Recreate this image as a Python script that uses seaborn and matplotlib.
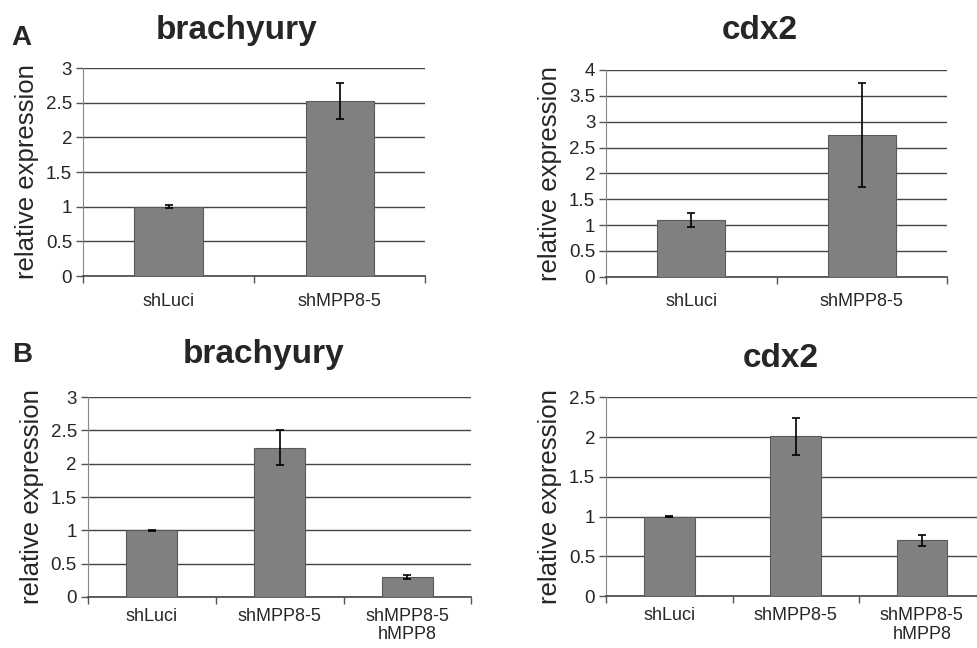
import numpy as np
import pandas as pd
import matplotlib
matplotlib.use("Agg")
import matplotlib.pyplot as plt
import seaborn as sns

# data
cats_a = ["shLuci", "shMPP8-5"]
cats_b = ["shLuci", "shMPP8-5", "shMPP8-5\nhMPP8"]

brachy_a = [1.0, 2.53]
brachy_a_err = [0.02, 0.26]
cdx2_a = [1.10, 2.74]
cdx2_a_err = [0.14, 1.01]

brachy_b = [1.0, 2.24, 0.30]
brachy_b_err = [0.005, 0.26, 0.03]
cdx2_b = [1.0, 2.01, 0.70]
cdx2_b_err = [0.005, 0.23, 0.07]

sns.set_style("white")
plt.rcParams['font.family'] = ['Liberation Sans', 'DejaVu Sans']

fig = plt.figure(figsize=(9.78, 6.48), dpi=100)

#axes placement [left, bottom, width, height], title pad, title x, xlabel pad
panels = [
    ([0.085, 0.574, 0.350, 0.321], cats_a, brachy_a, brachy_a_err, "brachyury", 3, 21, 0.447, 12),
    ([0.620, 0.573, 0.348, 0.319], cats_a, cdx2_a, cdx2_a_err, "cdx2", 4, 22, 0.45, 12),
    ([0.090, 0.079, 0.392, 0.308], cats_b, brachy_b, brachy_b_err, "brachyury", 3, 25, 0.457, 8),
    ([0.620, 0.080, 0.387, 0.307], cats_b, cdx2_b, cdx2_b_err, "cdx2", 2.5, 21.5, 0.46, 8),
]

for rect, cats, vals, errs, title, ymax, tpad, tx, xpad in panels:
    ax = fig.add_axes(rect)
    df = pd.DataFrame({"group": cats, "value": vals})
    sns.barplot(data=df, x="group", y="value", ax=ax, color="#808080",
                width=0.4, edgecolor="#5a5a5a", linewidth=0.8, saturation=1, errorbar=None, zorder=3)
    ax.errorbar(range(len(cats)), vals, yerr=errs, fmt="none", ecolor="black",
                elinewidth=1.2, capsize=3, capthick=1.2, zorder=4)
    ax.set_ylim(0, ymax)
    ax.set_xlim(-0.5, len(cats) - 0.5)
    yt = np.arange(0, ymax + 0.01, 0.5)
    ax.set_yticks(yt)
    ax.set_yticklabels([f"{t:g}" for t in yt])
    ax.yaxis.grid(True, color="#444444", linewidth=1.0)
    ax.set_axisbelow(True)
    # ticks between categories like excel
    ax.set_xticks(np.arange(-0.5, len(cats), 1.0), minor=False)
    ax.set_xticklabels([])
    ax.set_xticks(range(len(cats)), minor=True)
    ax.set_xticklabels(cats, minor=True, fontsize=13, linespacing=1.1)
    ax.tick_params(axis="x", which="major", length=5, width=1, color="#555555", direction="out", bottom=True)
    ax.tick_params(axis="x", which="minor", length=0, pad=xpad)
    ax.tick_params(axis="y", length=5, width=1, color="#555555", direction="out", left=True, labelsize=13.5, pad=3)
    for s in ["top", "right"]:
        ax.spines[s].set_visible(False)
    ax.spines["left"].set_color("#888888")
    ax.spines["bottom"].set_color("#444444")
    ax.spines["bottom"].set_linewidth(1.2)
    ax.set_xlabel("")
    ax.set_ylabel("relative expression", fontsize=18.5, labelpad=5)
    ax.set_title(title, fontsize=24, fontweight="bold", pad=tpad, x=tx)

fig.text(0.012, 0.93, "A", fontsize=20, fontweight="bold")
fig.text(0.012, 0.441, "B", fontsize=20, fontweight="bold")

fig.savefig("out.png", dpi=100)
